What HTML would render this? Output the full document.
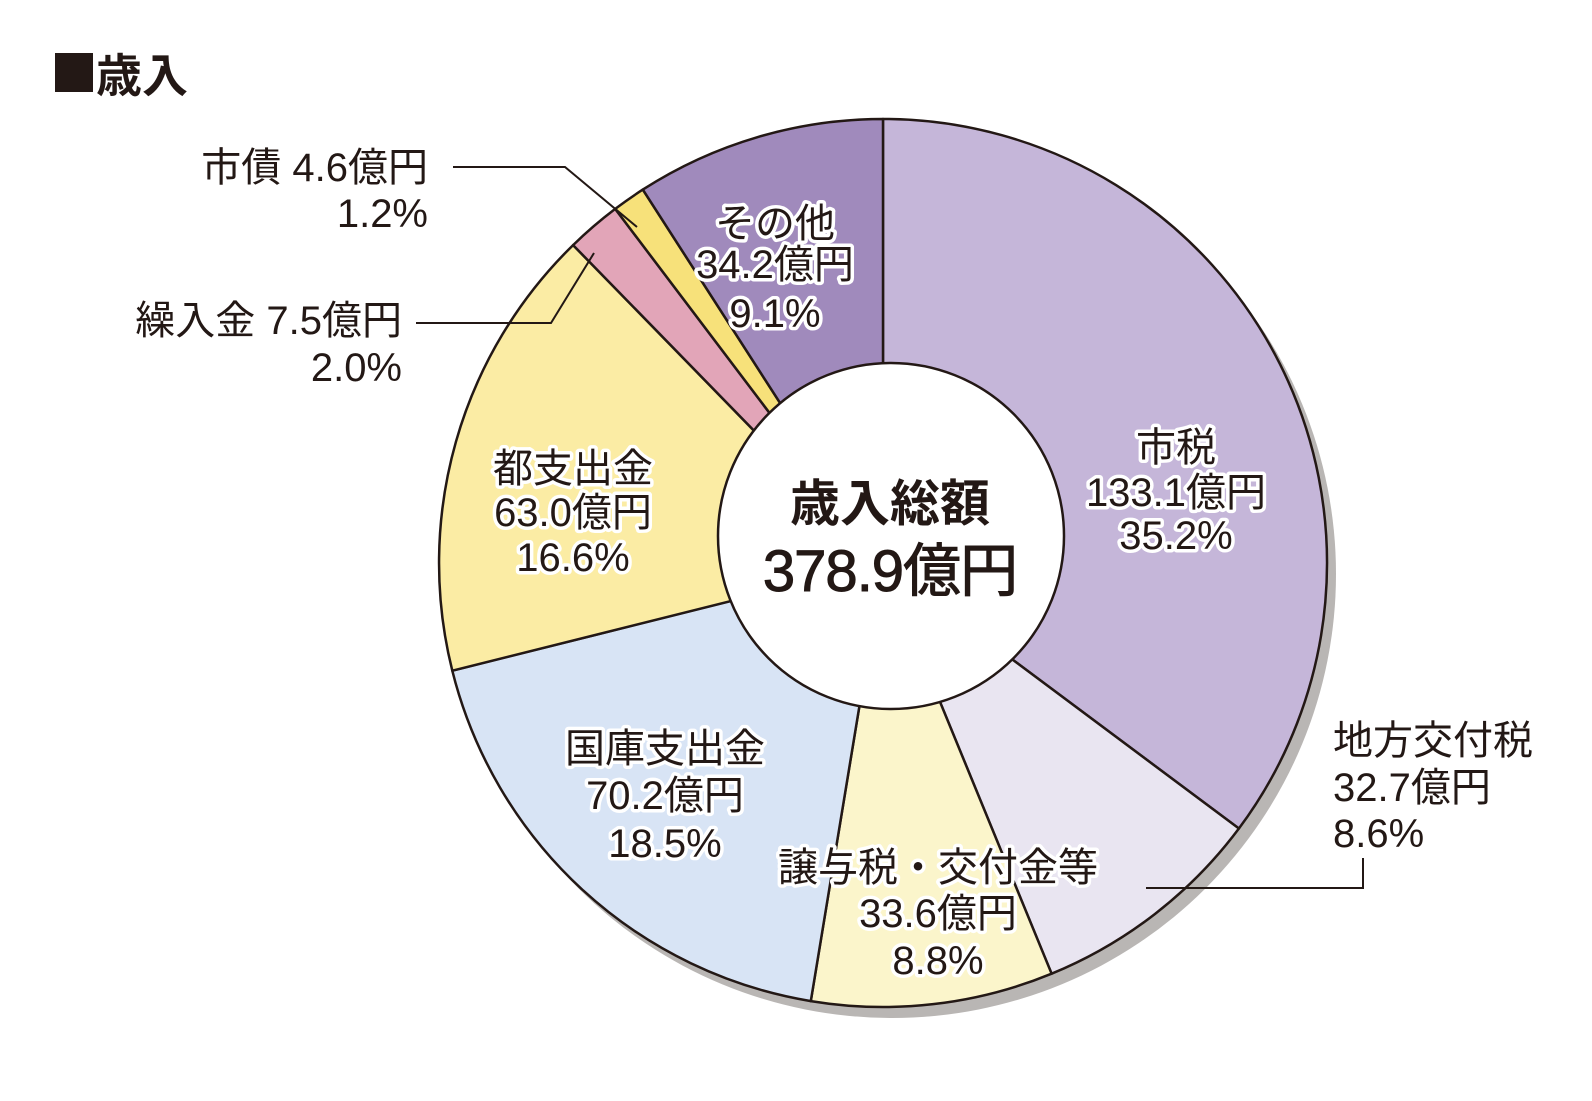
<!DOCTYPE html>
<html><head><meta charset="utf-8"><style>
html,body{margin:0;padding:0;background:#fff;}
svg{display:block;}
text{font-family:"Liberation Sans","Noto Sans CJK JP",sans-serif;fill:#231815;}
.h{stroke:#fff;stroke-width:7px;paint-order:stroke;stroke-linejoin:round;}
</style></head><body>
<svg width="1592" height="1101" viewBox="0 0 1592 1101" xmlns="http://www.w3.org/2000/svg">
<rect x="55" y="53" width="38" height="39" fill="#231815"/>
<text x="96" y="92" font-size="46" font-weight="bold">歳入</text>

<circle cx="892" cy="574" r="444" fill="#b9b6b4"/>
<g stroke="#231815" stroke-width="2.5" stroke-linejoin="round">
<path d="M883,563 L883,119 A444,444 0 0 1 1238.9,828.5 Z" fill="#c5b6d9"/>
<path d="M883,563 L1238.9,828.5 A444,444 0 0 1 1051.6,973.7 Z" fill="#e9e5f1"/>
<path d="M883,563 L1051.6,973.7 A444,444 0 0 1 810.8,1001.1 Z" fill="#fbf5cb"/>
<path d="M883,563 L810.8,1001.1 A444,444 0 0 1 452.3,670.7 Z" fill="#d8e4f5"/>
<path d="M883,563 L452.3,670.7 A444,444 0 0 1 573.1,245.1 Z" fill="#fbeca4"/>
<path d="M883,563 L573.1,245.1 A444,444 0 0 1 615.2,208.9 Z" fill="#e2a5b8"/>
<path d="M883,563 L615.2,208.9 A444,444 0 0 1 642.8,189.6 Z" fill="#f7e17a"/>
<path d="M883,563 L642.8,189.6 A444,444 0 0 1 883,119 Z" fill="#a08abc"/>
<circle cx="891" cy="536" r="173" fill="#fff"/>
</g>

<g fill="none" stroke="#231815" stroke-width="2">
<polyline points="453,167 565,167 637,227"/>
<polyline points="416,323 551,323 594,253"/>
<polyline points="1146,888 1363,888 1363,858"/>
</g>

<g font-size="40" text-anchor="end">
<text x="428" y="181">市債 4.6億円</text>
<text x="428" y="227">1.2%</text>
<text x="402" y="334">繰入金 7.5億円</text>
<text x="402" y="381">2.0%</text>
</g>
<g font-size="40">
<text x="1333" y="754">地方交付税</text>
<text x="1333" y="801">32.7億円</text>
<text x="1333" y="847">8.6%</text>
</g>
<g font-size="40" text-anchor="middle" class="h">
<text x="775" y="237" class="h">その他</text>
<text x="775" y="278" class="h">34.2億円</text>
<text x="775" y="327" class="h">9.1%</text>
<text x="1176" y="461" class="h">市税</text>
<text x="1176" y="506" class="h">133.1億円</text>
<text x="1176" y="549" class="h">35.2%</text>
<text x="573" y="482" class="h">都支出金</text>
<text x="573" y="526" class="h">63.0億円</text>
<text x="573" y="571" class="h">16.6%</text>
<text x="665" y="762" class="h">国庫支出金</text>
<text x="665" y="809" class="h">70.2億円</text>
<text x="665" y="857" class="h">18.5%</text>
<text x="938" y="881" class="h">譲与税・交付金等</text>
<text x="938" y="927" class="h">33.6億円</text>
<text x="938" y="974" class="h">8.8%</text>
</g>
<g text-anchor="middle">
<text x="890" y="521" font-size="50" font-weight="bold">歳入総額</text>
<text x="890" y="591" font-size="58" letter-spacing="-1" stroke="#231815" stroke-width="1">378.9億円</text>
</g>
</svg>
</body></html>
